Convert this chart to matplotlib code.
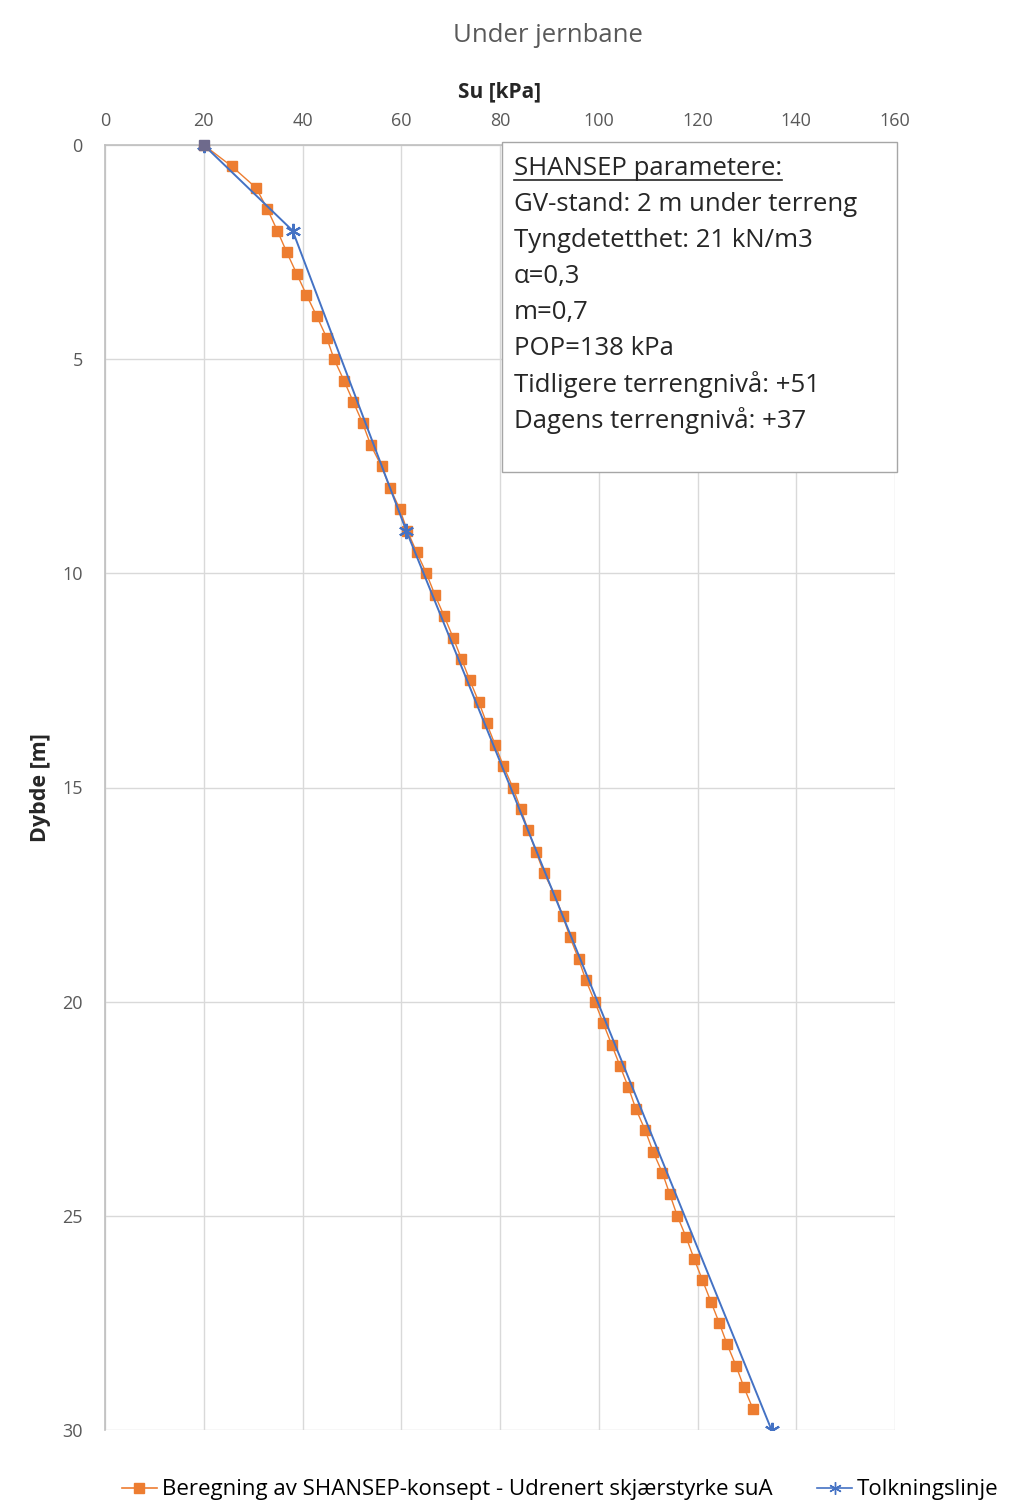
import matplotlib.pyplot as plt
from matplotlib.patches import Rectangle
from matplotlib.lines import Line2D

plt.rcParams['font.family'] = ['Open Sans', 'DejaVu Sans']

# SHANSEP calculation, su [kPa] per 0.5 m depth
shansep_depth = [0.0, 0.5, 1.0, 1.5, 2.0, 2.5, 3.0, 3.5, 4.0, 4.5,
                 5.0, 5.5, 6.0, 6.5, 7.0, 7.5, 8.0, 8.5, 9.0, 9.5,
                 10.0, 10.5, 11.0, 11.5, 12.0, 12.5, 13.0, 13.5, 14.0, 14.5,
                 15.0, 15.5, 16.0, 16.5, 17.0, 17.5, 18.0, 18.5, 19.0, 19.5,
                 20.0, 20.5, 21.0, 21.5, 22.0, 22.5, 23.0, 23.5, 24.0, 24.5,
                 25.0, 25.5, 26.0, 26.5, 27.0, 27.5, 28.0, 28.5, 29.0, 29.5]
shansep_su = [20.0, 25.7, 30.6, 32.9, 34.9, 36.8, 38.8, 40.8, 42.9, 44.9,
              46.4, 48.4, 50.3, 52.2, 53.8, 56.0, 57.7, 59.7, 61.2, 63.1,
              65.1, 66.8, 68.7, 70.5, 72.2, 73.9, 75.7, 77.3, 79.0, 80.7,
              82.6, 84.2, 85.7, 87.3, 88.9, 91.1, 92.7, 94.2, 95.9, 97.4,
              99.2, 100.9, 102.6, 104.3, 106.0, 107.5, 109.4, 111.0, 112.9, 114.4,
              115.9, 117.7, 119.3, 121.0, 122.7, 124.4, 126.0, 127.8, 129.4, 131.2]

# interpretation line
tolk_depth = [0, 2, 9, 30]
tolk_su = [20, 38, 61, 135]

x_ticks = [0, 20, 40, 60, 80, 100, 120, 140, 160]
y_ticks = [0, 5, 10, 15, 20, 25, 30]

info_lines = ["SHANSEP parametere:",
              "GV-stand: 2 m under terreng",
              "Tyngdetetthet: 21 kN/m3",
              "α=0,3",
              "m=0,7",
              "POP=138 kPa",
              "Tidligere terrengnivå: +51",
              "Dagens terrengnivå: +37"]

orange = '#ED7D31'
blue = '#4472C4'
grey_txt = '#595959'

fig = plt.figure(figsize=(10.11, 15.10), dpi=100)
ax = fig.add_axes([105 / 1011, 80 / 1510, 790 / 1011, 1285 / 1510])

ax.plot(shansep_su, shansep_depth, color=orange, lw=1.0, marker='s', ms=7.5,
        mec=orange, mfc=orange, zorder=3)
ax.plot(tolk_su, tolk_depth, color=blue, lw=1.4, marker=(6, 2, 0), ms=11,
        mew=1.5, mec=blue, zorder=4)
# first point looks grey where both series overlap
ax.plot(shansep_su[0], shansep_depth[0], marker='s', ms=7.5, color='#6E6A8C',
        zorder=5, clip_on=False)

ax.set_xlim(0, 160)
ax.set_ylim(30, 0)
ax.xaxis.tick_top()
ax.xaxis.set_label_position('top')
ax.set_xticks(x_ticks)
ax.set_yticks(y_ticks)
ax.tick_params(length=0, labelsize=13, labelcolor=grey_txt, pad=11)
ax.tick_params(axis='y', pad=16)
ax.grid(True, color='#D9D9D9', lw=1.0)
ax.set_axisbelow(True)
for s in ['right', 'bottom']:
    ax.spines[s].set_visible(False)
for s in ['top', 'left']:
    ax.spines[s].set_color('#BFBFBF')
    ax.spines[s].set_linewidth(1.2)

ax.set_xlabel('Su [kPa]', fontsize=15, fontweight='bold', color='#262626', labelpad=10)
ax.set_ylabel('Dybde [m]', fontsize=15.5, fontweight='bold', color='#262626', labelpad=8)
fig.text(548 / 1011, 1 - 35 / 1510, 'Under jernbane', fontsize=18.5, color=grey_txt,
         ha='center', va='center')

# parameter box
box = Rectangle((80.4, -0.07), 80.0, 7.7, transform=ax.transData, fc='white',
                ec='#A6A6A6', lw=1.0, zorder=6, clip_on=False)
ax.add_patch(box)
txts = []
for i, line in enumerate(info_lines):
    t = ax.text(82.8, 0.55 + i * 0.84, line, fontsize=18.5, color='#262626',
                va='center', ha='left', zorder=7)
    txts.append(t)

fig.canvas.draw()
bb = txts[0].get_window_extent().transformed(ax.transData.inverted())
ax.plot([bb.x0, bb.x1], [bb.y0 - 0.03, bb.y0 - 0.03], color='#262626', lw=1.2,
        zorder=7, clip_on=False)

handles = [Line2D([], [], color=orange, marker='s', ms=7, lw=1.2),
           Line2D([], [], color=blue, marker=(6, 2, 0), ms=9, lw=1.2)]
fig.legend(handles, ['Beregning av SHANSEP-konsept - Udrenert skjærstyrke suA', 'Tolkningslinje'],
           loc='center', bbox_to_anchor=(560 / 1011, 1 - 1490 / 1510), ncol=2,
           frameon=False, fontsize=16, handlelength=1.6, handletextpad=0.2,
           columnspacing=2.0)

fig.savefig('out.png', dpi=100)
